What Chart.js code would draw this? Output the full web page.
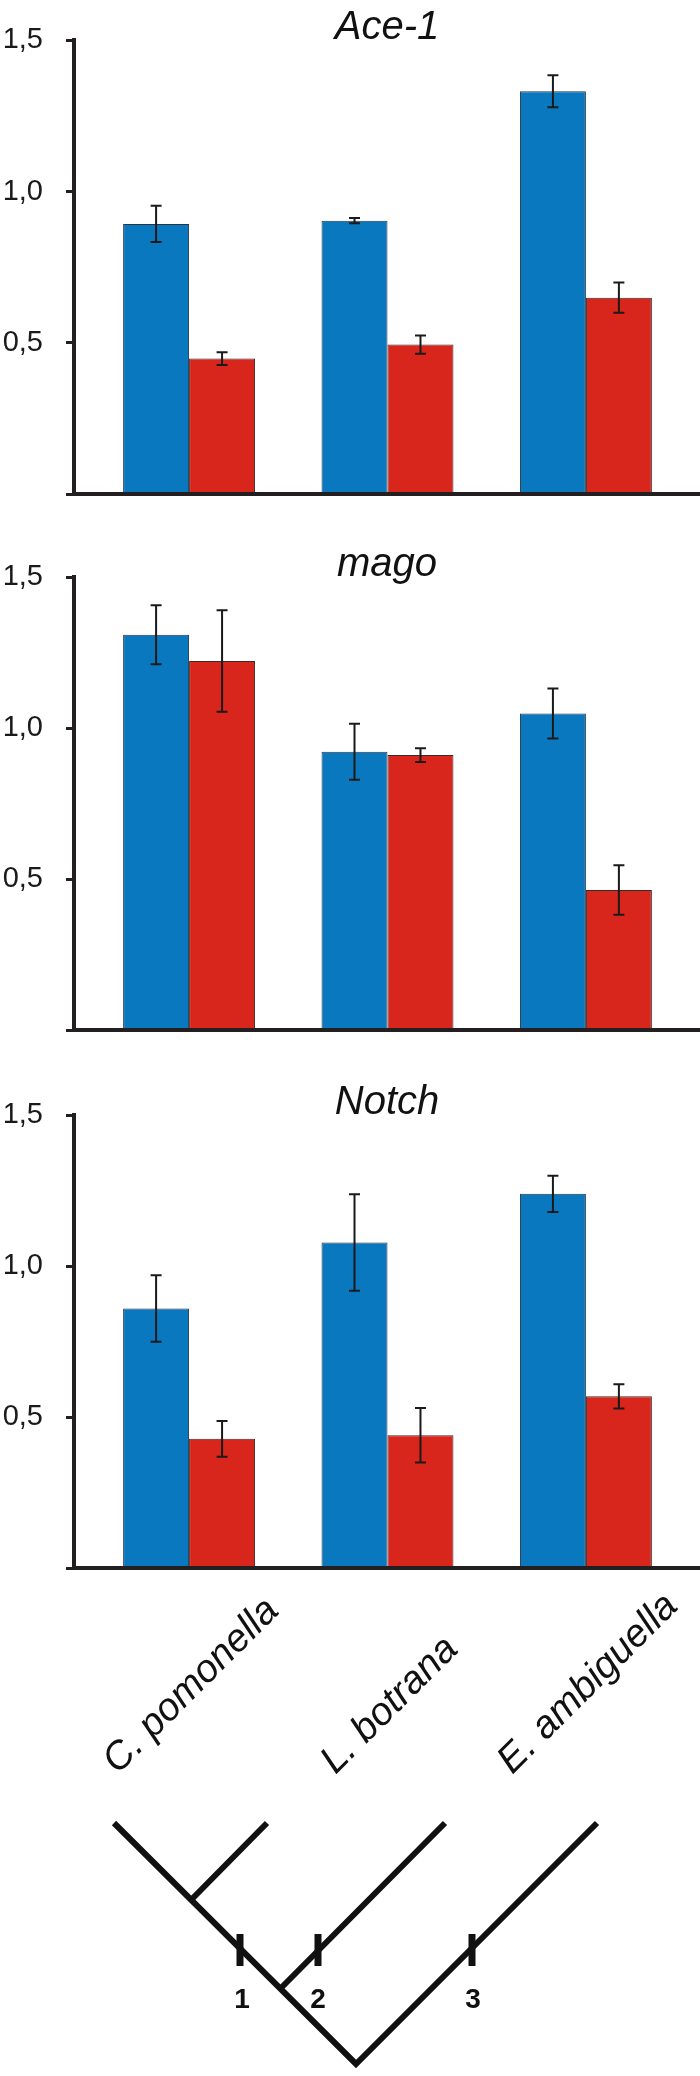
<!DOCTYPE html>
<html>
<head>
<meta charset="utf-8">
<script src="https://cdn.jsdelivr.net/npm/chart.js@4.4.1/dist/chart.umd.min.js"></script>
<style>
html, body { margin: 0; padding: 0; background: #ffffff; }
#wrap { width: 700px; }
canvas { display: block; }
</style>
</head>
<body>
<div id="wrap">
  <canvas id="c1" width="700" height="537"></canvas>
  <canvas id="c2" width="700" height="538"></canvas>
  <canvas id="c3" width="700" height="1001"></canvas>
</div>
<script>
// ---------------- DATA ----------------
const categories = ['C. pomonella', 'L. botrana', 'E. ambiguella'];
const genes = ['Ace-1', 'mago', 'Notch'];
const yTickValues = [0, 0.5, 1.0, 1.5];
const yTickLabels = ['', '0,5', '1,0', '1,5'];

const ace1Blue    = [0.893, 0.904, 1.332];
const ace1BlueErr = [0.060, 0.009, 0.053];
const ace1Red     = [0.448, 0.494, 0.649];
const ace1RedErr  = [0.021, 0.030, 0.050];

const magoBlue    = [1.310, 0.922, 1.049];
const magoBlueErr = [0.098, 0.093, 0.083];
const magoRed     = [1.223, 0.911, 0.464];
const magoRedErr  = [0.168, 0.023, 0.082];

const notchBlue    = [0.860, 1.079, 1.240];
const notchBlueErr = [0.110, 0.160, 0.060];
const notchRed     = [0.428, 0.440, 0.569];
const notchRedErr  = [0.059, 0.090, 0.040];

const nodeLabels = ['1', '2', '3'];

// ---------------- STYLE ----------------
const FONT = "'Liberation Sans', Arial, Helvetica, sans-serif";
const NARROW = "'Liberation Sans Narrow', 'Arial Narrow', 'Liberation Sans', Arial, sans-serif";
const AXIS = '#231f20';
const BLUE = '#0a78be';
const RED = '#d9261d';

const errorBars = {
  id: 'errorBars',
  afterDatasetsDraw(chart) {
    const ctx = chart.ctx;
    const y = chart.scales.y;
    chart.data.datasets.forEach((ds, di) => {
      const meta = chart.getDatasetMeta(di);
      meta.data.forEach((bar, i) => {
        const v = ds.data[i].y;
        const e = ds.errors[i];
        const top = y.getPixelForValue(v + e);
        const bot = y.getPixelForValue(v - e);
        ctx.save();
        ctx.strokeStyle = '#1a1a1a';
        ctx.lineWidth = 2;
        ctx.beginPath();
        ctx.moveTo(bar.x, top); ctx.lineTo(bar.x, bot);
        ctx.moveTo(bar.x - 5.5, top); ctx.lineTo(bar.x + 5.5, top);
        ctx.moveTo(bar.x - 5.5, bot); ctx.lineTo(bar.x + 5.5, bot);
        ctx.stroke();
        ctx.restore();
      });
    });
  }
};

const bottomDecor = {
  id: 'bottomDecor',
  afterDraw(chart) {
    const ctx = chart.ctx;
    const x = chart.scales.x;
    const base = chart.chartArea.bottom;
    ctx.save();
    ctx.fillStyle = '#111111';
    ctx.font = 'italic 39px ' + FONT;
    categories.forEach((name, i) => {
      const cx = x.getPixelForValue(i + 1);
      const w = ctx.measureText(name).width;
      ctx.save();
      ctx.translate(cx + 10, base + 207 - 0.3536 * w);
      ctx.rotate(-Math.PI / 4);
      ctx.textAlign = 'center';
      ctx.textBaseline = 'alphabetic';
      ctx.fillText(name, 0, 0);
      ctx.restore();
    });

    // cladogram
    ctx.strokeStyle = '#111111';
    ctx.lineWidth = 6;
    ctx.lineCap = 'butt';
    ctx.lineJoin = 'miter';
    ctx.beginPath();
    ctx.moveTo(114, base + 255);
    ctx.lineTo(356, base + 496);
    ctx.lineTo(597, base + 255);
    ctx.stroke();
    ctx.beginPath();
    ctx.moveTo(191, base + 332);
    ctx.lineTo(267, base + 255);
    ctx.moveTo(280, base + 421);
    ctx.lineTo(445, base + 255);
    ctx.stroke();

    ctx.lineWidth = 7;
    const tickXs = [240, 318, 472];
    ctx.beginPath();
    tickXs.forEach(tx => { ctx.moveTo(tx, base + 366); ctx.lineTo(tx, base + 398); });
    ctx.stroke();

    ctx.font = 'bold 28px ' + NARROW;
    ctx.textAlign = 'center';
    ctx.textBaseline = 'alphabetic';
    const numXs = [242, 318, 473];
    nodeLabels.forEach((t, i) => ctx.fillText(t, numXs[i], base + 440));
    ctx.restore();
  }
};

function makeChart(id, title, blue, blueErr, red, redErr, bottomPad, extra) {
  const toPts = arr => arr.map((v, i) => ({ x: i + 1, y: v }));
  return new Chart(document.getElementById(id), {
    type: 'bar',
    data: {
      datasets: [
        { label: title + ' blue', data: toPts(blue), errors: blueErr,
          backgroundColor: BLUE, borderColor: '#2b3440', borderWidth: 1,
          categoryPercentage: 0.665, barPercentage: 1.0 },
        { label: title + ' red', data: toPts(red), errors: redErr,
          backgroundColor: RED, borderColor: '#3a2a28', borderWidth: 1,
          categoryPercentage: 0.665, barPercentage: 1.0 }
      ]
    },
    options: {
      responsive: false,
      animation: false,
      layout: { padding: { top: 0, left: 0, right: 0, bottom: bottomPad } },
      plugins: {
        legend: { display: false },
        tooltip: { enabled: false },
        title: {
          display: true, text: title, fullSize: false, color: '#111111',
          font: { family: FONT, size: 40, style: 'italic', weight: 'normal', lineHeight: 1 },
          padding: { top: 0, bottom: -7 }
        }
      },
      scales: {
        x: {
          type: 'linear', min: 0.42, max: 3.575, offset: false,
          grid: { display: false, drawTicks: false, offset: false },
          ticks: { display: false },
          border: { display: true, color: AXIS, width: 4, z: 1 },
          afterBuildTicks: s => { s.ticks = categories.map((c, i) => ({ value: i + 1 })); },
          afterFit: s => { s.height = 0; }
        },
        y: {
          min: 0, max: 1.5, position: 'left',
          afterBuildTicks: s => { s.ticks = yTickValues.map(v => ({ value: v })); },
          ticks: {
            padding: 23, color: '#1a1a1a',
            font: { family: FONT, size: 29 },
            callback: (value) => {
              const k = yTickValues.findIndex(t => Math.abs(t - value) < 1e-9);
              return k >= 0 ? yTickLabels[k] : '';
            }
          },
          grid: { display: true, drawOnChartArea: false, drawTicks: true,
                  tickLength: 8, tickWidth: 3, tickColor: AXIS },
          border: { display: true, color: AXIS, width: 4, z: 1 },
          afterFit: s => { s.width = 74; }
        }
      }
    },
    plugins: [errorBars].concat(extra || [])
  });
}

makeChart('c1', genes[0], ace1Blue, ace1BlueErr, ace1Red, ace1RedErr, 43);
makeChart('c2', genes[1], magoBlue, magoBlueErr, magoRed, magoRedErr, 45);
makeChart('c3', genes[2], notchBlue, notchBlueErr, notchRed, notchRedErr, 508, [bottomDecor]);
</script>
</body>
</html>
